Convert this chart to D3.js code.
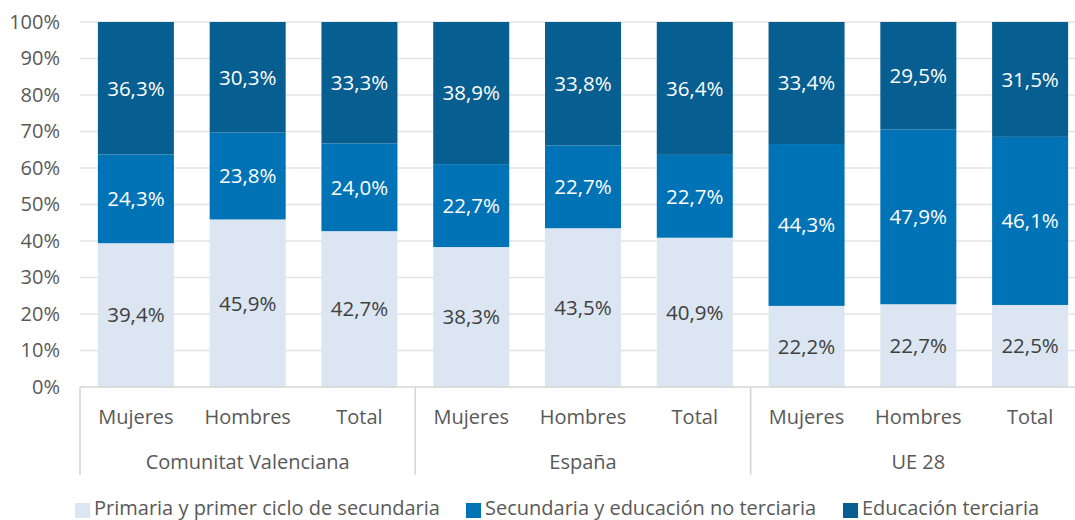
<!DOCTYPE html>
<html><head><meta charset="utf-8">
<script src="https://cdn.jsdelivr.net/npm/d3@7"></script>
<style>body{margin:0;background:#fff}svg{display:block}text{font-family:"Open Sans",sans-serif}</style>
</head><body><svg id="c" width="1075" height="520"></svg>
<script>
const groups = ["Comunitat Valenciana","España","UE 28"];
const subcats = ["Mujeres","Hombres","Total"];
const seriesNames = ["Primaria y primer ciclo de secundaria","Secundaria y educación no terciaria","Educación terciaria"];
const primaria = [39.4,45.9,42.7,38.3,43.5,40.9,22.2,22.7,22.5];
const secundaria = [24.3,23.8,24.0,22.7,22.7,22.7,44.3,47.9,46.1];
const terciaria = [36.3,30.3,33.3,38.9,33.8,36.4,33.4,29.5,31.5];
const yTicks = [0,10,20,30,40,50,60,70,80,90,100];
const colors = ["#dbe6f2","#0073b6","#065e91"];
const labelColors = ["#404040","#ffffff","#ffffff"];

(function(){
const svg = d3.select("#c");
const mL = 80, mR = 1086, mT = 22, mB = 387;
const fs = "20px", fsL = "20.5px";
const keys = [];
groups.forEach(g => subcats.forEach(s => keys.push(g + "|" + s)));
const rows = keys.map((k,i) => ({key:k, p:primaria[i], s:secundaria[i], t:terciaria[i]}));
const stack = d3.stack().keys(["p","s","t"]).offset(d3.stackOffsetExpand);
const stacked = stack(rows);
const vals = [primaria, secundaria, terciaria];

const x = d3.scaleBand().domain(keys).range([mL,mR]).paddingInner(0.32).paddingOuter(0.16);
const y = d3.scaleLinear().domain([0,1]).range([mB,mT]);

svg.append("g").selectAll("line").data(yTicks.filter(d=>d>0)).join("line")
  .attr("x1",mL).attr("x2",mR).attr("y1",d=>y(d/100)).attr("y2",d=>y(d/100))
  .attr("stroke","#e3e3e3").attr("stroke-width",1.3);

const yAxis = d3.axisLeft(y).tickValues(yTicks.map(d=>d/100)).tickFormat(d=>Math.round(d*100)+"%").tickSize(0).tickPadding(20);
const ya = svg.append("g").attr("transform",`translate(${mL},0)`).call(yAxis);
ya.select(".domain").remove();
ya.selectAll("text").attr("fill","#595959").style("font-size",fs).style("font-family","'Open Sans',sans-serif");

stacked.forEach((layer,li) => {
  const g = svg.append("g");
  g.selectAll("rect").data(layer).join("rect")
    .attr("x",d=>x(d.data.key)).attr("width",x.bandwidth())
    .attr("y",d=>y(d[1])).attr("height",d=>y(d[0])-y(d[1]))
    .attr("fill",colors[li]);
  g.selectAll("text").data(layer).join("text")
    .attr("x",d=>x(d.data.key)+x.bandwidth()/2)
    .attr("y",d=>(y(d[0])+y(d[1]))/2)
    .attr("dy","0.36em").attr("text-anchor","middle")
    .attr("fill",labelColors[li]).style("font-size",fsL)
    .text((d,i)=>vals[li][i].toFixed(1).replace(".",",")+"%");
});

const axisCol = "#d4d4d4";
svg.append("line").attr("x1",mL).attr("x2",mR).attr("y1",mB).attr("y2",mB).attr("stroke",axisCol).attr("stroke-width",1.5);
const groupW = (mR-mL)/groups.length;
d3.range(groups.length+1).forEach(i => {
  svg.append("line").attr("x1",mL+i*groupW).attr("x2",mL+i*groupW).attr("y1",mB).attr("y2",475)
    .attr("stroke",axisCol).attr("stroke-width",1.5);
});
svg.append("g").selectAll("text").data(keys).join("text")
  .attr("x",d=>x(d)+x.bandwidth()/2).attr("y",417).attr("dy","0.36em").attr("text-anchor","middle")
  .attr("fill","#595959").style("font-size",fs).text(d=>d.split("|")[1]);
svg.append("g").selectAll("text").data(groups).join("text")
  .attr("x",(d,i)=>mL+(i+0.5)*groupW).attr("y",462).attr("dy","0.36em").attr("text-anchor","middle")
  .attr("fill","#595959").style("font-size",fs).text(d=>d);

const legX = [75,466,843];
const leg = svg.append("g");
seriesNames.forEach((n,i) => {
  leg.append("rect").attr("x",legX[i]).attr("y",503).attr("width",15).attr("height",15).attr("fill",colors[i]);
  leg.append("text").attr("x",legX[i]+19).attr("y",515).attr("fill","#595959").style("font-size",fs).text(n);
});
})();
</script></body></html>
